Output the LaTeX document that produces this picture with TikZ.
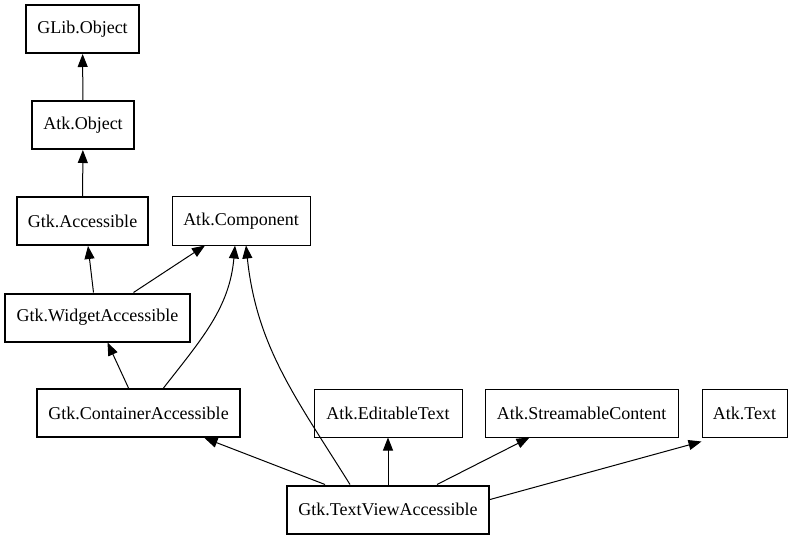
\documentclass[tikz,border=0pt]{standalone}
\usepackage{fontspec}
\setmainfont{Liberation Serif}
\usetikzlibrary{arrows.meta, positioning, shapes}
\tikzset{
        -{Triangle[length=13pt,width=10pt]}, % filled arrow heads
        x=1pt, y=1pt,
        class box/.style={
		draw,
		line width=1pt,
		minimum width={#1pt},
		minimum height={48pt},
		inner sep=0pt,
		font=\fontsize{18}{20}\selectfont,
	  },
  		own class/.style={
    	class box=#1,
    	line width=2pt,
      }
  	}

\begin{document}
\begin{tikzpicture}[line width=1pt]
    \useasboundingbox (0,0) rectangle (792,539);
    % classes of the hierarchy
    \node [own class=113] (glib) at (82.5,510) {GLib.Object};
    \node [own class=102] (atkobj) at (83,414) {Atk.Object};
    \node [own class=131] (gtkacc) at (82.5,318) {Gtk.Accessible};
    \node [class box=138] (comp) at (241,318) {Atk.Component};
    \node [own class=185] (widget) at (97.5,221.5) {Gtk.WidgetAccessible};
    \node [own class=203] (container) at (138.5,126) {Gtk.ContainerAccessible};
    \node [class box=148] (edit) at (388,126) {Atk.EditableText};
    \node [class box=193] (stream) at (581.5,126) {Atk.StreamableContent};
    \node [class box=85] (text) at (744.5,126) {Atk.Text};
    \node [own class=202] (textview) at (388,29.5) {Gtk.TextViewAccessible};
    % inheritance
    \draw (atkobj) -- (glib);
    \draw (gtkacc) -- (atkobj);
    \draw ([xshift=-4pt]widget.north) -- ([xshift=5.5pt]gtkacc.south);
    \draw ([xshift=36pt]widget.north) -- ([xshift=-36pt]comp.south);
    \draw ([xshift=-10pt]container.north) -- ([xshift=10pt]widget.south);
    \draw ([xshift=25pt]container.north) to[out=52,in=-95] ([xshift=-6pt]comp.south);
    \draw ([xshift=-63pt]textview.north) -- ([xshift=66pt]container.south);
    \draw ([xshift=-38pt]textview.north) to[out=122,in=-84] ([xshift=5pt]comp.south);
    \draw (textview) -- (edit);
    \draw ([xshift=49pt]textview.north) -- ([xshift=-52pt]stream.south);
    \draw ([yshift=10pt]textview.east) -- ([yshift=-4pt]text.south west);
  \end{tikzpicture}
\end{document}
